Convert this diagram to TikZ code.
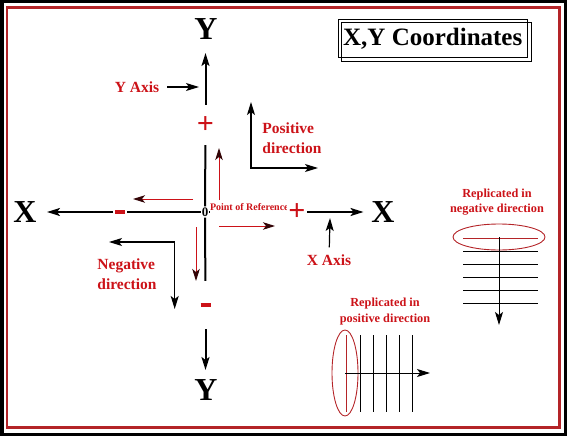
\documentclass[tikz,border=0pt]{standalone}
\usepackage{fontspec}
\setmainfont{Liberation Serif}
\usetikzlibrary{positioning, arrows.meta, shapes.geometric}
\definecolor{txtred}{RGB}{204,18,24}
\definecolor{framered}{RGB}{180,36,40}

\begin{document}
\begin{tikzpicture}[x=1pt, y=-1pt,
  >={Stealth[length=13pt, width=8pt, inset=3pt]},
  axis/.style={line width=2pt},
  thinarr/.style={line width=1.2pt},
  redarr/.style={-{Stealth[length=12pt, width=7.5pt, inset=3pt, color=black!75!txtred]},
                 draw=txtred, line width=1pt},
  bigletter/.style={font=\fontsize{32}{32}\selectfont\bfseries, inner sep=0pt},
  lbl/.style={font=\fontsize{15.5}{20}\selectfont\bfseries, text=txtred, align=left, inner sep=2pt},
  note/.style={font=\fontsize{12.3}{15.5}\selectfont\bfseries, text=txtred, align=center, inner sep=1pt},
  plussign/.style={font=\fontsize{30}{30}\selectfont\bfseries, text=txtred, inner sep=1.5pt},
  minussign/.style={inner sep=0pt, text=txtred},
  titlebox/.style={draw, line width=0.8pt, minimum width=188.5pt, minimum height=38pt,
                   font=\fontsize{25}{25}\selectfont\bfseries},
  ring/.style={ellipse, draw=framered, line width=0.9pt, inner sep=0pt},
  hatch/.style={line width=1pt},
]
\useasboundingbox (0,0) rectangle (567,436);

% ===== FRAMES =====
\draw[line width=3.5pt] (1.75,1.75) rectangle (565.25,434.25);
\draw[framered, line width=2.5pt] (7,7.5) rectangle (559.5,427.5);

% ===== TITLE =====
\node[titlebox] (title) at (432.75,38.3) {X,Y Coordinates};
\draw[line width=0.8pt] ([xshift=3.5pt, yshift=-3.7pt]title.north west)
  rectangle ([xshift=3.5pt, yshift=-3.7pt]title.south east);

% ===== AXIS LETTERS =====
\node[bigletter] (ytop) at (206,29) {Y};
\node[bigletter] (ybot) at (206,390) {Y};
\node[bigletter] (xleft) at (25,212) {X};
\node[bigletter] (xright) at (383,212) {X};

% ===== ORIGIN AND SIGNS =====
\node[font=\fontsize{13}{13}\selectfont\bfseries, inner sep=1pt] (o) at (205,212) {0};
\node[plussign, minimum height=40pt] (yplus) at (205.5,125) {+};
\node[minussign, minimum height=48pt] (yminus) at (205.5,305) {\rule[-1.75pt]{10pt}{3.5pt}};
\node[minussign, minimum width=13.4pt] (xminus) at (120,212) {\rule[-1.75pt]{10pt}{3.5pt}};

\coordinate (ytip) at (205.5,53);
\coordinate (ybtip) at (205.5,370);
\coordinate (xltip) at (47,212);
\coordinate (xrtip) at (363.5,212);

% ===== AXES =====
\draw[axis, ->] (yplus) -- (ytip);
\draw[axis] (o) -- (yplus);
\draw[axis] (o) -- (yminus);
\draw[axis, ->] (yminus) -- (ybtip);
\draw[axis] (o) -- (xminus);
\draw[axis, ->] (xminus) -- (xltip);
\draw[axis] (o) -- (297,212);

\node[font=\fontsize{10}{10}\selectfont\bfseries, text=txtred, fill=white,
      inner xsep=0.3pt, inner ysep=2.5pt, anchor=base west] (ref) at (209.5,210.5) {Point of Reference};
\node[plussign, fill=white] (xplus) at (297,212) {+};
\draw[axis, ->] (xplus) -- (xrtip);

% ===== AXIS LABELS =====
\node[lbl] (yaxislbl) at (137,87) {Y Axis};
\coordinate (yaxistip) at (199,87);
\draw[thinarr, ->, shorten <=6pt] (yaxislbl) -- (yaxistip);

\node[lbl] (xaxislbl) at (329,260) {X Axis};
\coordinate (xaxistip) at (330,218);
\draw[thinarr, ->, shorten <=5pt] (xaxislbl) -- (xaxistip);

% ===== DIRECTIONS =====
\node[lbl] (posdir) at (292,138) {Positive\\direction};
\coordinate (pup) at (251,102);
\coordinate (pcorner) at (251,168);
\coordinate (pright) at (318,168);
\draw[thinarr, <->] (pup) -- (pcorner) -- (pright);

\node[lbl] (negdir) at (127,274) {Negative\\direction};
\coordinate (nleft) at (109,242);
\coordinate (ncorner) at (174.7,242);
\coordinate (ndown) at (174.7,309);
\draw[thinarr, <->] (nleft) -- (ncorner) -- (ndown);

% red arrows round the origin
\coordinate (r1) at (219,200);  \coordinate (r1t) at (219,148);
\coordinate (r2) at (193,199);  \coordinate (r2t) at (133,199);
\coordinate (r3) at (219,226);  \coordinate (r3t) at (275,226);
\coordinate (r4) at (196,227);  \coordinate (r4t) at (196,281);
\draw[redarr] (r1) -- (r1t);
\draw[redarr] (r2) -- (r2t);
\draw[redarr] (r3) -- (r3t);
\draw[redarr] (r4) -- (r4t);

% ===== REPLICATED IN NEGATIVE DIRECTION =====
\node[note] (negnote) at (497,202) {Replicated in\\negative direction};
\node[ring, minimum width=92pt, minimum height=26pt] (negring) at (499,237) {};
\draw[hatch, framered] (463,238) -- (538,238);
\foreach \y in {251,264,277,290,303}
  \draw[hatch] (463,\y) -- (538,\y);
\coordinate (negtip) at (499,325);
\draw[hatch, ->] (negring.center) -- (negtip);

% ===== REPLICATED IN POSITIVE DIRECTION =====
\node[note] (posnote) at (385,311.5) {Replicated in\\positive direction};
\node[ring, minimum width=26pt, minimum height=86pt] (posring) at (345,373) {};
\draw[hatch, framered] (346.5,335) -- (346.5,412);
\foreach \x in {360,373,386,399,412}
  \draw[hatch] (\x,335) -- (\x,412);
\coordinate (postip) at (430,373);
\draw[hatch, ->] (posring.center) -- (postip);

\end{tikzpicture}
\end{document}
